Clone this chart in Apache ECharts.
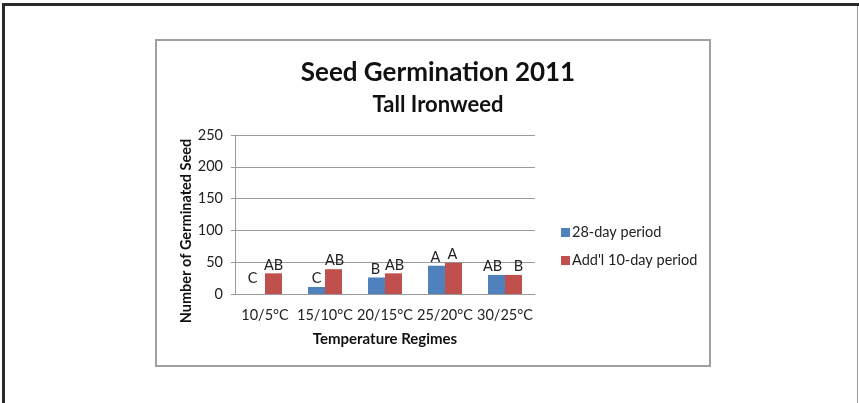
<!DOCTYPE html>
<html>
<head>
<meta charset="utf-8">
<script src="https://cdn.jsdelivr.net/npm/echarts@6/dist/echarts.min.js"></script>
<style>
html,body{margin:0;padding:0;background:#fff;}
#chart{width:859px;height:403px;}
</style>
</head>
<body>
<div id="chart"></div>
<script>
const categories = ['10/5°C', '15/10°C', '20/15°C', '25/20°C', '30/25°C'];
const period28 = [0, 11, 26, 44.5, 30];
const periodAdd10 = [32.5, 39, 32.5, 49, 30];
const letters28 = ['C', 'C', 'B', 'A', 'AB'];
const lettersAdd10 = ['AB', 'AB', 'AB', 'A', 'B'];
const yTicks = [0, 50, 100, 150, 200, 250];

const FONT = 'Lato, "Open Sans", sans-serif';
const chart = echarts.init(document.getElementById('chart'), null, {renderer: 'canvas'});

const labelOffsets28 = [[-4, -7], [0, 0], [-1, 0], [-1, 0], [-4, 0]];
const labelOffsetsAdd = [[0, 0], [1, 0], [1, 0], [-1, 0], [5, 0]];

function mk(vals, letters, offs) {
  return vals.map((v, i) => ({
    value: v,
    label: {formatter: letters[i], offset: offs[i]}
  }));
}

const option = {
  backgroundColor: '#fff',
  animation: false,
  textStyle: {fontFamily: FONT},
  title: [
    {text: 'Seed Germination 2011', left: 433, top: 55, textAlign: 'center',
     textStyle: {fontFamily: FONT, fontSize: 26, fontWeight: 'bold', color: '#111'}},
    {text: 'Tall Ironweed', left: 433, top: 89, textAlign: 'center',
     textStyle: {fontFamily: FONT, fontSize: 22, fontWeight: 'bold', color: '#111'}}
  ],
  legend: {
    orient: 'vertical', left: 556, top: 220, itemWidth: 9, itemHeight: 9, itemGap: 13,
    icon: 'rect',
    textStyle: {fontFamily: FONT, fontSize: 14.5, color: '#222', padding: [0, 0, 0, -3]},
    data: ['28-day period', "Add'l 10-day period"]
  },
  grid: {left: 235, top: 135, width: 300, height: 159, containLabel: false},
  xAxis: {
    type: 'category', data: categories,
    axisLine: {show: true, lineStyle: {color: '#9a9a9a', width: 1}},
    axisTick: {show: false},
    axisLabel: {interval: 0, fontFamily: FONT, fontSize: 14.5, color: '#222', margin: 14},
    name: 'Temperature Regimes', nameLocation: 'middle', nameGap: 38,
    nameTextStyle: {fontFamily: FONT, fontSize: 15, fontWeight: 'bold', color: '#111'}
  },
  yAxis: {
    type: 'value', min: 0, max: 250, interval: 50,
    axisLine: {show: true, lineStyle: {color: '#9a9a9a', width: 1}},
    axisTick: {show: true, length: 4, lineStyle: {color: '#9a9a9a'}},
    splitLine: {show: true, lineStyle: {color: '#9a9a9a', width: 1}},
    axisLabel: {fontFamily: FONT, fontSize: 14.5, color: '#222', margin: 12,
      formatter: v => yTicks.includes(v) ? String(v) : ''}
  },
  series: [
    {
      name: '28-day period', type: 'bar', barWidth: 17, barGap: '0%',
      itemStyle: {color: '#4F81BD'},
      label: {show: true, position: 'top', distance: 1, fontFamily: FONT, fontSize: 14.5, color: '#222'},
      data: mk(period28, letters28, labelOffsets28)
    },
    {
      name: "Add'l 10-day period", type: 'bar', barWidth: 17, barGap: '0%',
      itemStyle: {color: '#C0504D'},
      label: {show: true, position: 'top', distance: 1, fontFamily: FONT, fontSize: 14.5, color: '#222'},
      data: mk(periodAdd10, lettersAdd10, labelOffsetsAdd)
    }
  ],
  graphic: [
    {type: 'rect', shape: {x: 3.5, y: 4.5, width: 870, height: 420}, silent: true,
     style: {fill: null, stroke: '#2a2a2a', lineWidth: 3}},
    {type: 'line', shape: {x1: 857.5, y1: 6, x2: 857.5, y2: 403}, silent: true,
     style: {stroke: '#999', lineWidth: 1}},
    {type: 'rect', shape: {x: 156, y: 40, width: 554, height: 326}, silent: true,
     style: {fill: null, stroke: '#a0a0a0', lineWidth: 2}},
    {type: 'text', x: 186, y: 231, rotation: Math.PI / 2, silent: true,
     style: {text: 'Number of Germinated Seed', fontFamily: FONT, fontSize: 14.5, fontWeight: 'bold',
       fill: '#111', align: 'center', verticalAlign: 'middle'}}
  ]
};
chart.setOption(option);
</script>
</body>
</html>
